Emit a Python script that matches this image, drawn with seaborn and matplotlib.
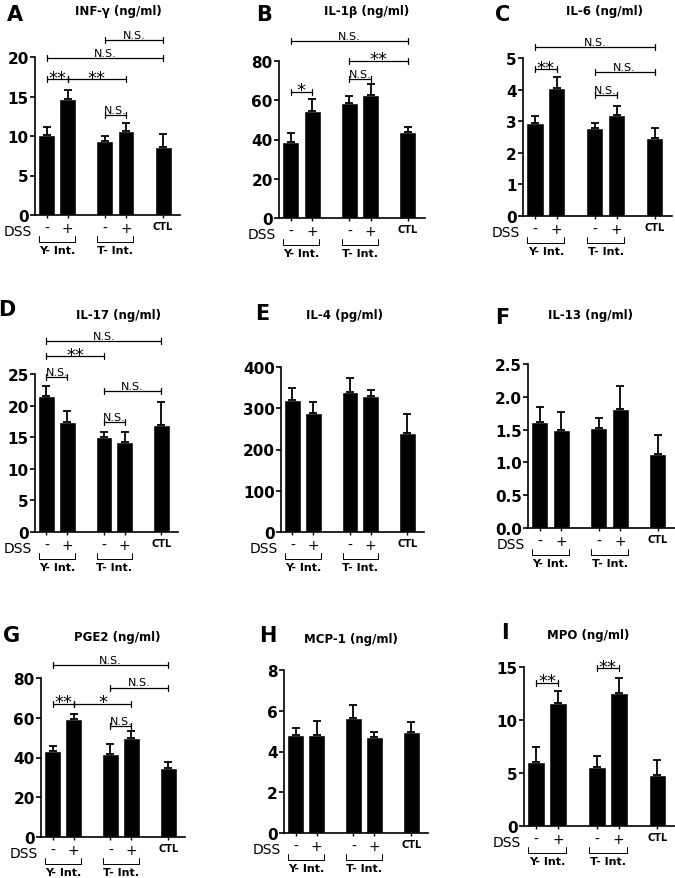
import matplotlib
matplotlib.use("Agg")
import matplotlib.pyplot as plt
import matplotlib.ticker as mticker
import pandas as pd
import seaborn as sns

# bar groups: Y-Int (-DSS, +DSS), T-Int (-DSS, +DSS), CTL
positions = [0, 1, 2.75, 3.75, 5.5]
tick_labels = ["-", "+", "-", "+", "CTL"]
group_names = ["Y- Int.", "T- Int."]

# means and upper SEM
infg_mean = [10.1, 14.7, 9.4, 10.6, 8.6]
infg_sem = [1.1, 1.1, 0.6, 1.0, 1.7]
il1b_mean = [38.7, 54.6, 58.7, 62.9, 43.7]
il1b_sem = [4.6, 5.8, 3.6, 5.5, 2.7]
il6_mean = [2.95, 4.05, 2.78, 3.2, 2.47]
il6_sem = [0.2, 0.35, 0.17, 0.28, 0.31]
il17_mean = [21.5, 17.4, 15.0, 14.2, 16.9]
il17_sem = [1.6, 1.8, 0.9, 1.6, 3.7]
il4_mean = [321, 289, 340, 330, 241]
il4_sem = [27, 27, 33, 14, 46]
il13_mean = [1.62, 1.49, 1.52, 1.82, 1.13]
il13_sem = [0.23, 0.28, 0.16, 0.34, 0.29]
pge2_mean = [43.1, 59.6, 41.6, 49.7, 34.9]
pge2_sem = [2.9, 2.5, 5.0, 3.5, 2.7]
mcp1_mean = [4.82, 4.83, 5.62, 4.69, 4.96]
mcp1_sem = [0.32, 0.69, 0.65, 0.27, 0.47]
mpo_mean = [6.04, 11.57, 5.57, 12.58, 4.84]
mpo_sem = [1.38, 1.13, 1.03, 1.42, 1.42]

# significance brackets: (bar i, bar j, y level, label)
infg_sig = [(0, 1, 17.2, "**"), (1, 3, 17.2, "**"), (2, 3, 12.7, "N.S."),
            (0, 4, 19.9, "N.S."), (2, 4, 22.2, "N.S.")]
il1b_sig = [(0, 1, 64.3, "*"), (2, 3, 70.7, "N.S."), (2, 4, 80.0, "**"),
            (0, 4, 90.2, "N.S.")]
il6_sig = [(0, 1, 4.65, "**"), (2, 3, 3.83, "N.S."), (2, 4, 4.56, "N.S."),
           (0, 4, 5.36, "N.S.")]
il17_sig = [(0, 1, 24.5, "N.S."), (0, 2, 27.8, "**"), (2, 4, 22.3, "N.S."),
            (2, 3, 17.4, "N.S."), (0, 4, 30.2, "N.S.")]
pge2_sig = [(0, 1, 67.1, "**"), (1, 3, 67.1, "*"), (2, 3, 55.7, "N.S."),
            (2, 4, 75.2, "N.S."), (0, 4, 86.4, "N.S.")]
mpo_sig = [(0, 1, 13.5, "**"), (2, 3, 14.9, "**")]

W, H = 675, 879

sns.set_style("ticks")
plt.rcParams["font.family"] = ["DejaVu Sans"]
plt.rcParams["text.color"] = "black"
plt.rcParams["xtick.color"] = "black"
plt.rcParams["ytick.color"] = "black"
plt.rcParams["axes.edgecolor"] = "black"

fig = plt.figure(figsize=(W / 100, H / 100), dpi=100)


def draw_panel(box, letter, letter_xy, title, title_xy, means, sem, ymax, ystep,
               sig=(), fmt="%d"):
    left, top, right, bottom = box
    aw, ah = right - left, bottom - top
    ax = fig.add_axes([left / W, 1 - bottom / H, aw / W, ah / H])

    df = pd.DataFrame({"pos": positions, "value": means})
    sns.barplot(data=df, x="pos", y="value", native_scale=True, color="black",
                saturation=1, width=0.8, errorbar=None, ax=ax)
    ax.errorbar(positions, means, yerr=[[0] * len(sem), sem], fmt="none",
                ecolor="black", elinewidth=1.3, capsize=3, capthick=1.3)

    ax.set_xlim(-0.55, 6.3)
    ax.set_ylim(0, ymax)
    ax.yaxis.set_major_locator(mticker.MultipleLocator(ystep))
    ax.yaxis.set_major_formatter(mticker.FormatStrFormatter(fmt))
    ax.set_xlabel("")
    ax.set_ylabel("")
    sns.despine(ax=ax)
    for s in ["left", "bottom"]:
        ax.spines[s].set_linewidth(1.2)
    ax.tick_params(axis="y", length=3.5, width=1.2, labelsize=11, pad=1)
    for t in ax.get_yticklabels():
        t.set_fontweight("bold")
    ax.set_xticks(positions, tick_labels)
    ax.tick_params(axis="x", length=2.5, width=1, labelsize=10, pad=2)
    xl = ax.get_xticklabels()
    xl[-1].set_fontsize(7)
    xl[-1].set_fontweight("bold")

    # DSS label and group brackets below the axis
    ax.text(-3 / aw, -16 / ah, "DSS", transform=ax.transAxes, ha="right",
            va="center", fontsize=10)
    tr = ax.get_xaxis_transform()
    for k, name in enumerate(group_names):
        a, b = positions[2 * k] - 0.35, positions[2 * k + 1] + 0.35
        ax.plot([a, a, b, b], [-21 / ah, -27 / ah, -27 / ah, -21 / ah],
                transform=tr, color="black", lw=0.7, clip_on=False)
        ax.text((a + b) / 2, -35 / ah, name, transform=tr, ha="center",
                va="center", fontsize=8, fontweight="bold")

    # significance brackets
    d = 3 / ah * ymax
    for i, j, y, label in sig:
        x1, x2 = positions[i], positions[j]
        ax.plot([x1, x2], [y, y], color="black", lw=0.9, clip_on=False)
        for x in (x1, x2):
            ax.plot([x, x], [y - d, y + d], color="black", lw=0.9, clip_on=False)
        if label.startswith("*"):
            ax.annotate(label, ((x1 + x2) / 2, y), xytext=(0, -2.5),
                        textcoords="offset points", ha="center", va="baseline",
                        fontsize=13, annotation_clip=False)
        else:
            ax.annotate(label, ((x1 + x2) / 2, y), xytext=(0, 1.5),
                        textcoords="offset points", ha="center", va="baseline",
                        fontsize=8, annotation_clip=False)

    fig.text(letter_xy[0] / W, 1 - letter_xy[1] / H, letter, ha="center",
             va="center", fontsize=15, fontweight="bold")
    fig.text(title_xy[0] / W, 1 - title_xy[1] / H, title, ha="center",
             va="center", fontsize=8.5, fontweight="bold")
    return ax


draw_panel((35, 58, 180, 216), "A", (15, 15), "INF-γ (ng/ml)", (118, 11),
           infg_mean, infg_sem, 20, 5, infg_sig)
draw_panel((279, 62, 425, 219), "B", (264, 15), "IL-1β (ng/ml)", (367, 12),
           il1b_mean, il1b_sem, 80, 20, il1b_sig)
draw_panel((523, 59, 672, 217), "C", (503, 15), "IL-6 (ng/ml)", (604, 11),
           il6_mean, il6_sem, 5, 1, il6_sig)
draw_panel((35, 375, 178, 533), "D", (7, 310), "IL-17 (ng/ml)", (119, 316),
           il17_mean, il17_sem, 25, 5, il17_sig)
draw_panel((281, 368, 424, 533), "E", (262, 314), "IL-4 (pg/ml)", (345, 316),
           il4_mean, il4_sem, 400, 100)
draw_panel((528, 365, 675, 529), "F", (502, 318), "IL-13 (ng/ml)", (591, 316),
           il13_mean, il13_sem, 2.5, 0.5, fmt="%.1f")
draw_panel((41, 679, 185, 838), "G", (12, 636), "PGE2 (ng/ml)", (117, 638),
           pge2_mean, pge2_sem, 80, 20, pge2_sig)
draw_panel((284, 671, 428, 834), "H", (268, 636), "MCP-1 (ng/ml)", (351, 640),
           mcp1_mean, mcp1_sem, 8, 2)
draw_panel((524, 668, 675, 827), "I", (505, 633), "MPO (ng/ml)", (588, 635),
           mpo_mean, mpo_sem, 15, 5, mpo_sig)

fig.savefig("out.png", dpi=100)
